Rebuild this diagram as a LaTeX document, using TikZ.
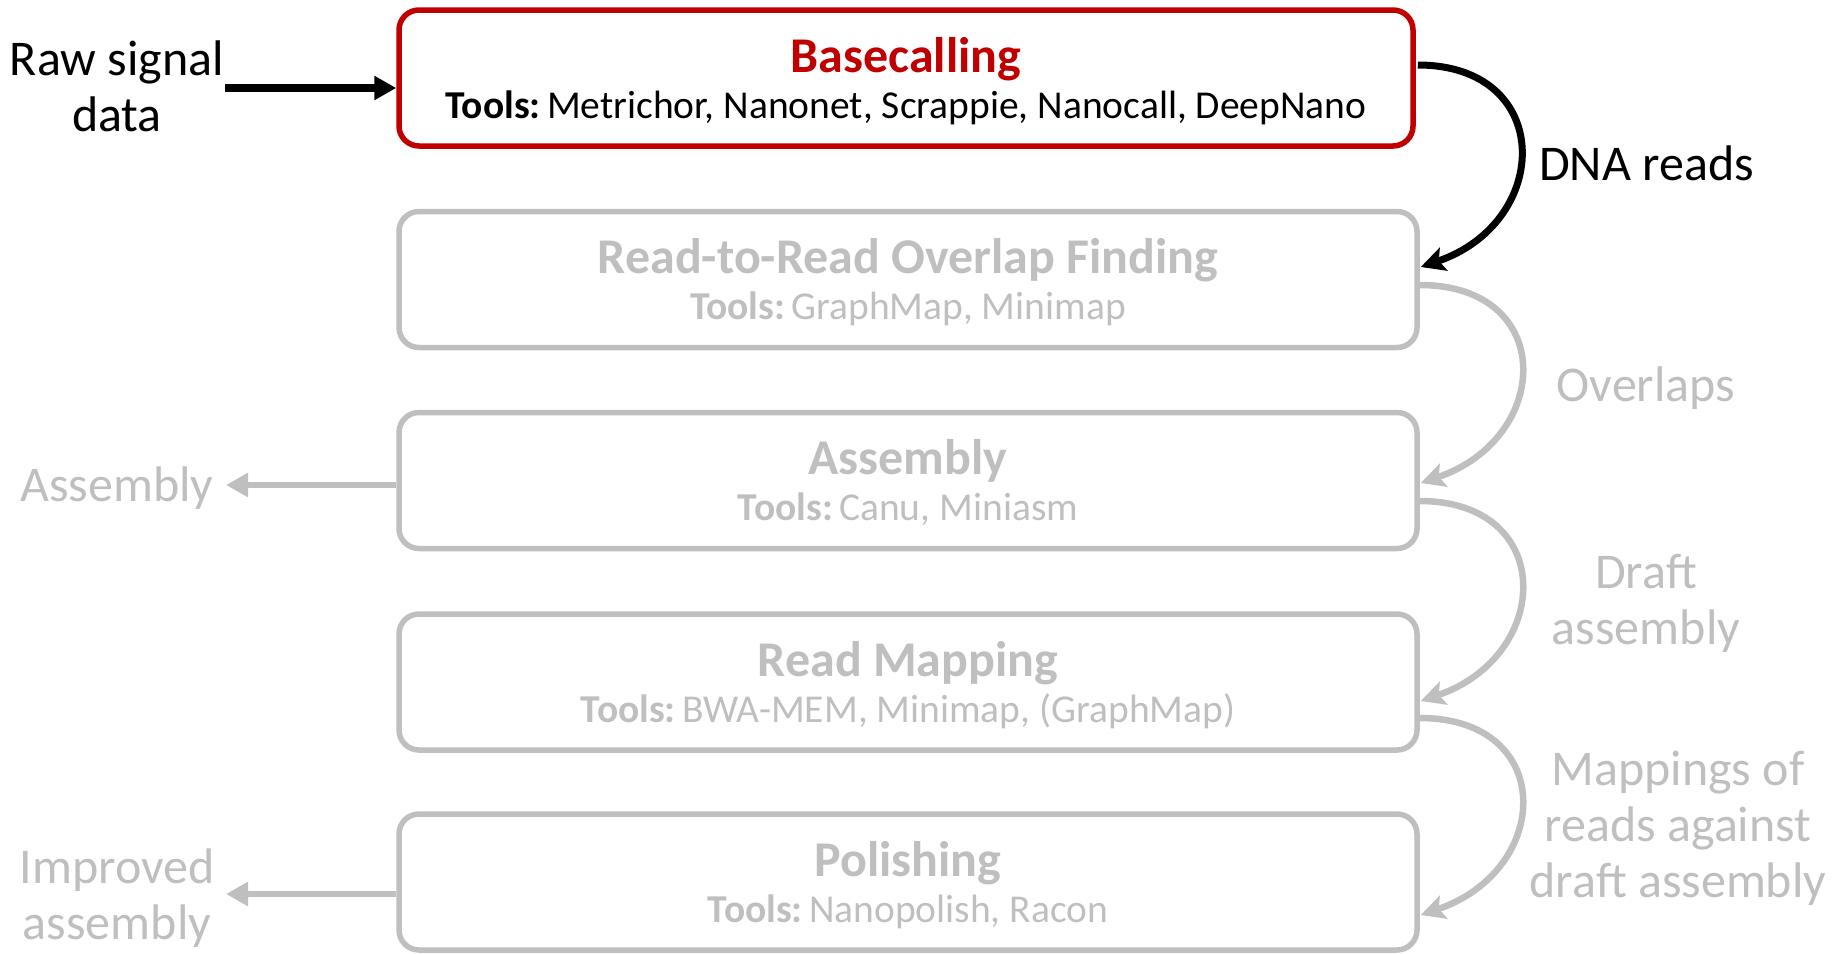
\documentclass[tikz,border=0pt]{standalone}
\usepackage{fontspec}
\setmainfont{Carlito}
\usetikzlibrary{arrows.meta,calc}
\definecolor{stepred}{HTML}{C00000}
\definecolor{fade}{HTML}{BFBFBF}

\begin{document}
\begin{tikzpicture}[x=1pt,y=-1pt,
  box/.style={draw, line width=5.5pt, rounded corners=20pt,
    minimum width=1018pt, minimum height=136pt, inner sep=0pt},
  active/.style={box, draw=stepred, minimum width=1014pt},
  idle/.style={box, draw=fade},
  title/.style={font=\fontsize{50}{56}\selectfont\bfseries, anchor=base, inner sep=0pt},
  tools/.style={font=\fontsize{39.5}{44}\selectfont, anchor=base, inner sep=0pt},
  lbl/.style={font=\fontsize{50}{56}\selectfont, align=center, inner sep=0pt},
  loop/.style={line width=6.5pt, -{Stealth[length=24pt,width=24pt,inset=5pt]}},
  side/.style={line width=6.5pt, -{Triangle[length=22pt,width=23pt]}},
]
\useasboundingbox (0,0) rectangle (1839,953);
\newcommand\toolhead{\textbf{Tools:}\hspace{0.16em}}

% pipeline stages
\node[active] (b1) at (906,78) {};
\node[idle] (b2) at (908,279.5) {};
\node[idle] (b3) at (908,480.5) {};
\node[idle] (b4) at (908,682) {};
\node[idle] (b5) at (908,882) {};

\node[title, text=stepred] (t1) at ($(b1.center)+(0,-6)$) {Basecalling};
\node[tools] (u1) at ($(b1.center)+(0,40)$) {\toolhead Metrichor, Nanonet, Scrappie, Nanocall, DeepNano};

\begin{scope}[text=fade]
\node[title] (t2) at ($(b2.center)+(0,-6)$) {Read-to-Read Overlap Finding};
\node[tools] (u2) at ($(b2.center)+(0,40)$) {\toolhead GraphMap, Minimap};
\node[title] (t3) at ($(b3.center)+(0,-6)$) {Assembly};
\node[tools] (u3) at ($(b3.center)+(0,40)$) {\toolhead Canu, Miniasm};
\node[title] (t4) at ($(b4.center)+(0,-6)$) {Read Mapping};
\node[tools] (u4) at ($(b4.center)+(0,40)$) {\toolhead BWA-MEM, Minimap, (GraphMap)};
\node[title] (t5) at ($(b5.center)+(0,-6)$) {Polishing};
\node[tools] (u5) at ($(b5.center)+(0,40)$) {\toolhead Nanopolish, Racon};
\end{scope}

% input and outputs
\node[lbl] (raw) at (117,86) {Raw signal\\data};
\coordinate (rawout) at (225,88);
\draw[side, line width=8pt] (rawout) -- (rawout -| b1.west);

\node[lbl, text=fade] (asm) at (117,488) {Assembly};
\coordinate (asmtip) at (226,485);
\draw[side, draw=fade, fill=fade] (asmtip -| b3.west) -- (asmtip);

\node[lbl, text=fade] (imp) at (117,898) {Improved\\assembly};
\coordinate (imptip) at (226,894);
\draw[side, draw=fade, fill=fade] (imptip -| b5.west) -- (imptip);

% hand-over between stages
\coordinate (s1) at ($(b1.east)+(2,-13)$);
\coordinate (e1) at ($(b2.east)+(1,-12.5)$);
\draw[loop, black, line width=7pt] (s1) .. controls ($(s1)+(137,0)$) and ($(e1)+(132,-45)$) .. (e1);
\node[lbl, anchor=west] (dna) at (1539,163) {DNA reads};

\coordinate (s2) at ($(b2.east)+(0,5.5)$);
\coordinate (e2) at ($(b3.east)+(1,2.5)$);
\draw[loop, fade] (s2) .. controls ($(s2)+(137,0)$) and ($(e2)+(132,-45)$) .. (e2);
\node[lbl, text=fade] (ovl) at (1646,388) {Overlaps};

\coordinate (s3) at ($(b3.east)+(0,20.5)$);
\coordinate (e3) at ($(b4.east)+(1,19)$);
\draw[loop, fade] (s3) .. controls ($(s3)+(137,0)$) and ($(e3)+(132,-45)$) .. (e3);
\node[lbl, text=fade] (dft) at (1646,603) {Draft\\assembly};

\coordinate (s4) at ($(b4.east)+(0,36)$);
\coordinate (e4) at ($(b5.east)+(1,33)$);
\draw[loop, fade] (s4) .. controls ($(s4)+(137,0)$) and ($(e4)+(132,-45)$) .. (e4);
\node[lbl, text=fade] (map) at (1678,828) {Mappings of\\reads against\\draft assembly};
\end{tikzpicture}
\end{document}
